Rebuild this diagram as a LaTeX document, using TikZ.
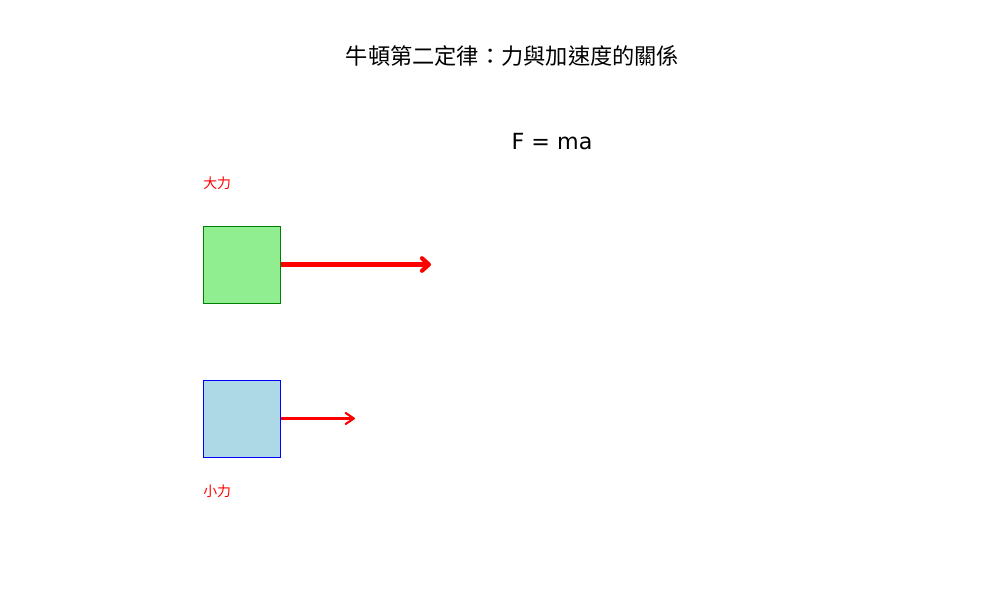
\documentclass[tikz,border=0pt]{standalone}
\usepackage{fontspec}
\setmainfont{DejaVu Sans}
\newfontfamily\cjk{Noto Sans CJK TC}
\usetikzlibrary{arrows.meta}
\definecolor{lgreen}{RGB}{144,238,144}
\definecolor{dgreen}{RGB}{0,128,0}
\definecolor{lblue}{RGB}{173,216,230}
\definecolor{pblue}{RGB}{0,0,255}
\definecolor{pred}{RGB}{255,0,0}
\tikzset{
  massbox/.style={draw, line width=0.72pt, minimum width=55.44pt, minimum height=55.44pt, inner sep=0pt},
  bigbox/.style={massbox, fill=lgreen, draw=dgreen},
  smallbox/.style={massbox, fill=lblue, draw=pblue},
  bigforce/.style={draw=pred, line width=3pt, -{Straight Barb[length=5pt,width=9pt,round]}},
  smallforce/.style={draw=pred, line width=1.5pt, -{Straight Barb[length=6pt,width=8pt,round]}},
  forcelabel/.style={text=pred, font=\cjk\fontsize{10pt}{12pt}\selectfont, anchor=west, inner sep=0pt},
}
\begin{document}
\begin{tikzpicture}[x=0.72pt,y=-0.72pt]
\useasboundingbox (0,0) rectangle (1000,600);
\node[font=\cjk\fontsize{16pt}{19pt}\selectfont, inner sep=0pt] (title) at (512.5,56) {牛頓第二定律：力與加速度的關係};
\node[font=\fontsize{16pt}{19pt}\selectfont, inner sep=0pt] (law) at (552,142) {F = ma};
\node[bigbox] (big) at (241.5,264.5) {};
\node[smallbox] (small) at (241.5,418.5) {};
\coordinate (bigend) at (431,264.5);
\coordinate (smallend) at (355,418.5);
\draw[bigforce] (big.east) -- (bigend);
\draw[smallforce] (small.east) -- (smallend);
\node[forcelabel] (biglabel) at (203,183) {大力};
\node[forcelabel] (smalllabel) at (203,491) {小力};
\end{tikzpicture}
\end{document}
